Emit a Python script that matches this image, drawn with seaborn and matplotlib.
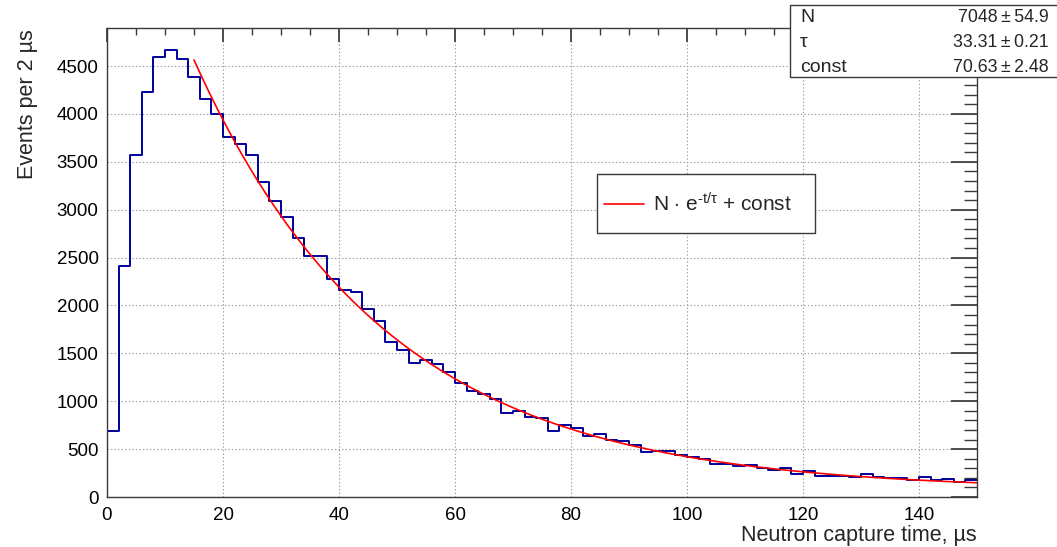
import numpy as np
import pandas as pd
import matplotlib
matplotlib.use('Agg')
import matplotlib.pyplot as plt
from matplotlib.patches import Rectangle
from matplotlib.ticker import MultipleLocator
import seaborn as sns

# ─── data ─────────────────────────────────────────────────────────────────
bin_width = 2
x_range = (0, 150)
counts = [
    690, 2410, 3570, 4233, 4591, 4671, 4573, 4385, 4160, 3996,
    3756, 3687, 3569, 3290, 3089, 2925, 2700, 2521, 2516, 2273,
    2161, 2140, 1963, 1835, 1622, 1535, 1400, 1434, 1389, 1306,
    1194, 1103, 1077, 1021, 882, 902, 840, 823, 694, 753,
    719, 639, 663, 590, 583, 548, 475, 485, 478, 435,
    420, 399, 347, 347, 322, 336, 301, 287, 301, 242,
    270, 221, 221, 221, 214, 235, 208, 194, 194, 173,
    204, 173, 183, 155, 176,
]

fit_N, fit_N_err = 7048, 54.9
fit_tau, fit_tau_err = 33.31, 0.21
fit_const, fit_const_err = 70.63, 2.48
fit_range = (15, 150)

xlabel = 'Neutron capture time, µs'
ylabel = 'Events per 2 µs'
legend_label = r'N $\cdot$ e$^{\mathregular{‐t/τ}}$ + const'

HIST_COLOR = '#00009a'
FIT_COLOR = '#ff0000'
AXIS_COLOR = '#3a3a3a'

# ─── style ────────────────────────────────────────────────────────────────
sns.set_theme(style='white')
plt.rcParams['font.family'] = ['Liberation Sans', 'DejaVu Sans']
plt.rcParams['mathtext.fontset'] = 'custom'
plt.rcParams['mathtext.rm'] = 'Liberation Sans'
plt.rcParams['mathtext.it'] = 'Liberation Sans'
plt.rcParams['mathtext.sf'] = 'Liberation Sans'

W, H = 1057, 547
fig = plt.figure(figsize=(W / 100, H / 100), dpi=100)
ax = fig.add_axes([107 / W, 1 - 497 / H, 870 / W, (497 - 27.7) / H])

df = pd.DataFrame({
    'center': x_range[0] + bin_width * (np.arange(len(counts)) + 0.5),
    'count': counts,
})

sns.histplot(data=df, x='center', weights='count', binwidth=bin_width,
             binrange=x_range, element='step', fill=False,
             color=HIST_COLOR, linewidth=1.4, ax=ax)
# left edge of the first bin down to zero, as ROOT draws it
ax.plot([x_range[0], x_range[0]], [0, counts[0]],
        color=HIST_COLOR, linewidth=1.4)

t = np.linspace(fit_range[0], fit_range[1], 400)
fit_df = pd.DataFrame({'t': t,
                       'y': fit_N * np.exp(-t / fit_tau) + fit_const})
sns.lineplot(data=fit_df, x='t', y='y', color=FIT_COLOR, linewidth=1.2,
             ax=ax, label=legend_label)

ax.set_xlim(*x_range)
ax.set_ylim(0, 4900)
ax.set_xlabel('')
ax.set_ylabel('')

ax.xaxis.set_major_locator(MultipleLocator(20))
ax.xaxis.set_minor_locator(MultipleLocator(5))
ax.yaxis.set_major_locator(MultipleLocator(500))
ax.yaxis.set_minor_locator(MultipleLocator(100))

ax.grid(True, which='major', linestyle=(0, (1.2, 2.0)), color='#9a9a9a',
        linewidth=0.8)
ax.set_axisbelow(True)

for side in ax.spines.values():
    side.set_color(AXIS_COLOR)
    side.set_linewidth(1.0)

ax.tick_params(axis='both', which='both', direction='in',
               top=True, right=True, color=AXIS_COLOR, labelsize=13.5,
               labelcolor='black')
ax.tick_params(axis='x', which='major', length=10, pad=7)
ax.tick_params(axis='x', which='minor', length=5)
ax.tick_params(axis='y', which='major', length=19, pad=6)
ax.tick_params(axis='y', which='minor', length=9.5)

# axis titles, ROOT-style aligned to the axis end
fig.text(28 / W, 1 - 29 / H, ylabel, rotation=90, ha='center', va='top',
         fontsize=15.5)
fig.text(977 / W, 1 - 541 / H, xlabel, ha='right', va='baseline',
         fontsize=15.5)

# legend box: frame drawn separately so the padding can follow ROOT
ax.add_patch(Rectangle((597 / W, 1 - 233 / H), (815 - 597) / W,
                       (233 - 174) / H, transform=fig.transFigure,
                       facecolor='white', edgecolor=AXIS_COLOR,
                       linewidth=1.0, zorder=5, clip_on=False))
leg = ax.legend(loc='center left', bbox_to_anchor=(604 / W, 1 - 204 / H),
                bbox_transform=fig.transFigure, frameon=False,
                fontsize=15, handlelength=1.9, handletextpad=0.45,
                borderpad=0, borderaxespad=0)
leg.set_zorder(6)

# fit statistics box
fig.patches.append(Rectangle((790 / W, 1 - 77 / H), (W + 5 - 790) / W,
                             (77 - 5) / H, transform=fig.transFigure,
                             facecolor='white', edgecolor=AXIS_COLOR,
                             linewidth=1.0, zorder=5))
sp = '\u2009'
stats = [
    ('N', f'{fit_N}{sp}±{sp}{fit_N_err}'),
    ('τ', f'{fit_tau:.2f}{sp}±{sp}{fit_tau_err:.2f}'),
    ('const', f'{fit_const:.2f}{sp}±{sp}{fit_const_err:.2f}'),
]
for i, (name, val) in enumerate(stats):
    y = 1 - (18 + 24.5 * i) / H
    fig.text(800 / W, y, name, ha='left', va='center', fontsize=14,
             zorder=6)
    fig.text(1049 / W, y, val, ha='right', va='center', fontsize=12.8,
             zorder=6)

fig.savefig('out.png', dpi=100)
plt.close(fig)
